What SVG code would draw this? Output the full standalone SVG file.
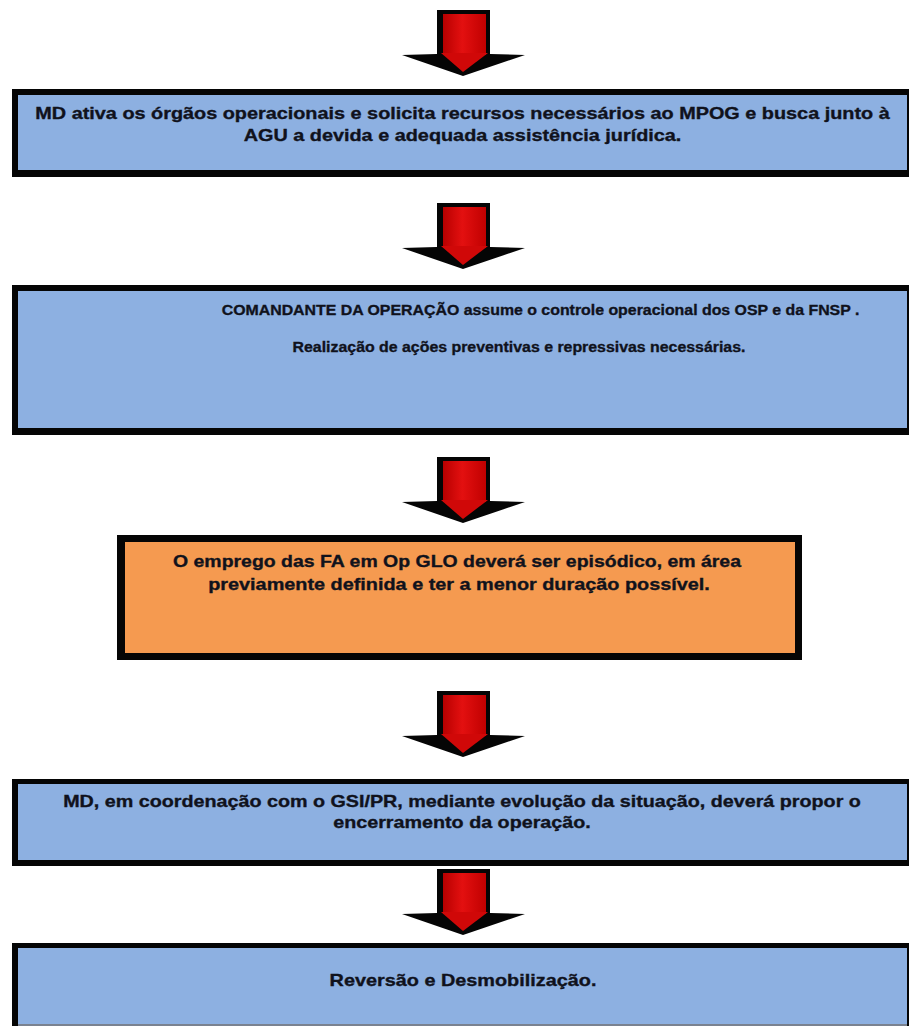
<svg xmlns="http://www.w3.org/2000/svg" width="909" height="1026" viewBox="0 0 909 1026">
<style>
.t{font-family:"Liberation Sans",Arial,Helvetica,sans-serif;font-weight:bold;fill:#10121c;stroke:#10121c;stroke-width:0.35px;text-anchor:middle}
.big{font-size:17.3px}
.mid{font-size:15.5px}
.blue{fill:#8db0e1}
.orange{fill:#f59a50}
.edge{fill:#050505}
</style>
<defs>
<linearGradient id="redg" x1="0" y1="0" x2="1" y2="0">
<stop offset="0" stop-color="#b80000"/>
<stop offset="0.45" stop-color="#e31010"/>
<stop offset="1" stop-color="#c00000"/>
</linearGradient>
<g id="arrow">
<polygon points="437,0 490,0 490,44 525,45 463,66 402,45 437,44" fill="#050505"/>
<rect x="443" y="4" width="43" height="41" fill="url(#redg)"/>
<polygon points="441,43 488,43 463,62" fill="#d00808"/>
</g>
</defs>
<rect width="909" height="1026" fill="#ffffff"/>
<g id="connectors">
<use href="#arrow" transform="translate(0 10)"/>
<use href="#arrow" transform="translate(0 203)"/>
<use href="#arrow" transform="translate(0 457)"/>
<use href="#arrow" transform="translate(0 691)"/>
<use href="#arrow" transform="translate(0 869)"/>
</g>
<g id="node1">
<rect class="edge" x="12" y="89" width="897" height="88"/>
<rect class="blue" x="18" y="95" width="889" height="75"/>
<g transform="translate(462.5 0) scale(1.147 1)">
<text class="t big" x="0" y="119">MD ativa os órgãos operacionais e solicita recursos necessários ao MPOG e busca junto à</text>
<text class="t big" x="0" y="141">AGU a devida e adequada assistência jurídica.</text>
</g>
</g>
<g id="node2">
<rect class="edge" x="12" y="285" width="897" height="150"/>
<rect class="blue" x="18" y="291" width="889" height="137"/>
<g transform="translate(540.5 0) scale(1.025 1)">
<text class="t mid" x="0" y="315">COMANDANTE DA OPERAÇÃO assume o controle operacional dos OSP e da FNSP .</text>
</g>
<g transform="translate(519 0) scale(1.025 1)">
<text class="t mid" x="0" y="352">Realização de ações preventivas e repressivas necessárias.</text>
</g>
</g>
<g id="node3">
<rect class="edge" x="117" y="535" width="685" height="125"/>
<rect class="orange" x="125" y="542" width="670" height="111"/>
<g transform="translate(457 0) scale(1.125 1)">
<text class="t big" x="0" y="567">O emprego das FA em Op GLO deverá ser episódico, em área</text>
</g>
<g transform="translate(459 0) scale(1.147 1)">
<text class="t big" x="0" y="590">previamente definida e ter a menor duração possível.</text>
</g>
</g>
<g id="node4">
<rect class="edge" x="12" y="779" width="897" height="87"/>
<rect class="blue" x="18" y="784" width="889" height="76"/>
<g transform="translate(462 0) scale(1.14 1)">
<text class="t big" x="0" y="807">MD, em coordenação com o GSI/PR, mediante evolução da situação, deverá propor o</text>
<text class="t big" x="0" y="828">encerramento da operação.</text>
</g>
</g>
<g id="node5">
<rect class="edge" x="12" y="943" width="897" height="83"/>
<rect class="blue" x="18" y="948" width="889" height="76"/>
<rect x="18" y="1024" width="889" height="2" fill="#7a8290"/>
<g transform="translate(463 0) scale(1.147 1)">
<text class="t big" x="0" y="986">Reversão e Desmobilização.</text>
</g>
</g>
</svg>
